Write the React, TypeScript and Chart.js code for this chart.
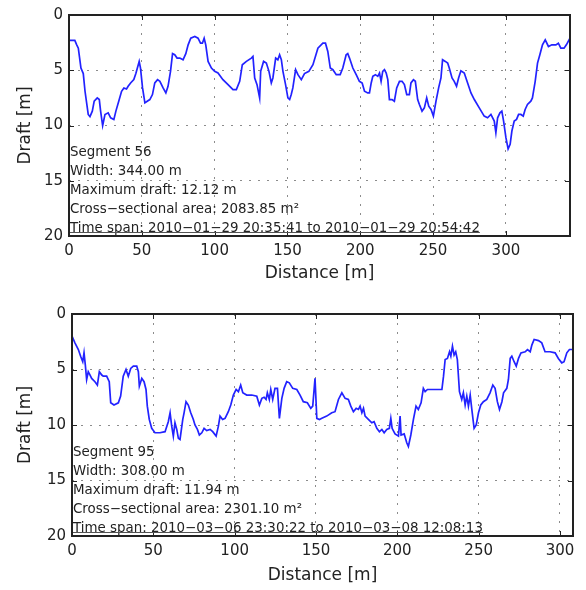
import React, { useEffect, useRef } from "react";
import { Chart, registerables } from "chart.js";

Chart.register(...registerables);

// Segment 56 ice draft profile
const seg56Distance = [
  0, 4, 5.3, 6.4, 8.2, 9.8, 11, 13.2, 14.4, 16, 17.3, 19.4, 20.8, 21.7, 23.1, 24.7, 26.9, 28.6, 30.8, 32.2,
  34.5, 36.1, 37.7, 39.5, 40.6, 42.3, 44.5, 45.9, 48.2, 49.1, 50.5, 52.1, 53.7, 55.5, 57.3, 58.9, 60.8, 62.4,
  64.6, 66.5, 68, 69.7, 71.1, 72.6, 74.2, 76.1, 78.3, 80.2, 81.8, 83.6, 86.4, 88.6, 90.3, 91.6, 92.8, 93.9,
  95.5, 97.8, 100, 102.3, 105.7, 109.2, 112.6, 114.9, 117.2, 119, 121.8, 125.2, 126.3, 127.5, 129.1, 130.9,
  131.6, 133.6, 135.5, 137.3, 138.9, 140, 141.9, 143.4, 144.6, 145.8, 146.9, 148.7, 150.3, 151.5, 152.6,
  153.7, 155.6, 157.2, 159.5, 161.7, 164.7, 167.5, 170.9, 174.3, 176.1, 177.7, 179.4, 181.2, 183.5, 186.2,
  188, 190.3, 191.4, 192.6, 194.9, 197.2, 199.4, 201.3, 202.9, 205.1, 206.3, 207.5, 208.6, 210.4, 212,
  213.2, 214.3, 215.4, 216.6, 217.8, 218.9, 220, 221.8, 223.4, 225, 226.9, 228.7, 230.3, 231.9, 233.7,
  234.8, 236.5, 237.8, 239.4, 240.6, 242.4, 244, 245.6, 247, 248.6, 250.2, 252, 253.8, 255.4, 256.5, 258.4,
  260, 261.1, 263, 264.5, 266.1, 267.5, 269.1, 271.4, 273.7, 276, 278.3, 281.7, 285.1, 287.4, 289.7, 292,
  293.1, 294.3, 295.9, 297.2, 298.4, 300, 301.5, 302.9, 304.1, 305.7, 307.3, 308.7, 310.3, 311.9, 313.2,
  314.8, 317.1, 318.2, 320.1, 321.7, 323.3, 325.1, 327, 329.2, 331.5, 334.3, 336, 337.7, 339.9, 341.5, 344,
];
const seg56Draft = [
  2.3, 2.3, 2.7, 3.0, 4.8, 5.3, 6.9, 9.0, 9.2, 8.7, 7.8, 7.5, 7.65, 8.7, 10.0, 9.0, 8.85, 9.3, 9.45, 8.7,
  7.65, 6.9, 6.6, 6.7, 6.45, 6.15, 5.85, 5.3, 4.2, 4.8, 6.6, 7.95, 7.8, 7.65, 7.2, 6.15, 5.85, 6.0,
  6.6, 7.05, 6.45, 5.1, 3.5, 3.6, 3.9, 3.9, 4.05, 3.5, 2.7, 2.1, 1.95, 2.1, 2.55, 2.55, 2.1, 2.7,
  4.2, 4.8, 5.1, 5.25, 5.85, 6.3, 6.75, 6.75, 6.0, 4.5, 4.2, 3.9, 3.75, 5.7, 6.3, 7.5,
  5.1, 4.2, 4.35, 5.1, 6.15, 5.7, 3.9, 4.05, 3.6, 4.05, 5.1, 6.3, 7.5, 7.65, 7.2,
  6.6, 4.95, 5.4, 5.85, 5.3, 5.1, 4.5, 3.0, 2.55, 2.55, 3.3, 4.8, 4.95, 5.4, 5.4,
  4.8, 3.6, 3.5, 3.9, 4.8, 5.4, 6.0, 6.15, 6.9, 7.05, 7.05, 6.15, 5.55, 5.4, 5.55,
  5.25, 6.0, 5.1, 4.95, 5.25, 5.85, 7.65, 7.65, 7.8, 6.6, 6.0, 6.0, 6.3, 7.2, 7.2,
  6.15, 5.85, 6.0, 7.65, 8.1, 8.7, 8.4, 7.5, 8.25, 8.55, 9.15, 7.8, 6.6, 5.7, 4.05, 4.2,
  4.35, 4.8, 5.7, 6.0, 6.45, 5.7, 5.05, 5.25, 6.15, 7.05, 7.65, 8.4, 9.15, 9.3, 9.0, 9.6,
  10.65, 9.3, 8.85, 8.7, 9.6, 11.1, 12.12, 11.7, 10.5, 9.6, 9.45, 9.0, 9.0, 9.15, 8.55,
  8.1, 7.8, 7.5, 6.0, 4.35, 3.6, 2.7, 2.25, 2.85, 2.7, 2.7, 2.55, 3.0, 3.0, 2.7, 2.1,
];
const seg56Info = [
  "Segment 56",
  "Width: 344.00 m",
  "Maximum draft: 12.12 m",
  "Cross\u2212sectional area: 2083.85 m\u00b2",
  "Time span: 2010\u221201\u221229 20:35:41 to 2010\u221201\u221229 20:54:42",
];

// Segment 95 ice draft profile
const seg95Distance = [
  0, 1.8, 3.9, 5.3, 6.6, 7.4, 8.2, 9, 10, 11.1, 12.1, 14.1, 15.6, 16.8, 18.3, 19.2, 21.3, 22.9, 23.8, 25.8,
  28.5, 29.9, 31.5, 33.2, 34.6, 36.1, 37.7, 39.8, 40.8, 41.4, 42.9, 44.3, 45.5, 46.3, 47.5, 49, 51, 54.1,
  57.2, 59.2, 60.3, 61.3, 62.3, 63.3, 64.4, 65.4, 66.4, 68.1, 68.9, 70.1, 71.5, 73, 74.6, 75.6, 77.1, 78.3,
  79.8, 81.2, 82.8, 84.9, 86.5, 88.6, 90, 91, 92.6, 94.1, 96.1, 97.6, 99.2, 100.9, 102.3, 103.7, 105, 107.4,
  110.5, 113.6, 115.2, 116.7, 118.1, 119.3, 120.1, 121.3, 122.2, 123.4, 124.8, 126.3, 127.5, 129, 130.4, 132,
  133.6, 135.7, 138.2, 140.2, 142.2, 144.7, 146.8, 148, 149.4, 150.5, 152.1, 153.6, 156.6, 159.7, 161.7,
  163.8, 165.9, 167.9, 169.9, 171.4, 173, 174.7, 176.1, 177.1, 178.2, 179.2, 180.2, 182.2, 184.3, 185.7,
  187.4, 189, 190.5, 191.9, 193.5, 195.1, 196, 196.8, 198.6, 200.7, 201.7, 202.3, 204.2, 205.8, 206.8,
  208.3, 209.9, 211.5, 212.9, 214.6, 216, 217.1, 218.5, 221.2, 224.3, 227.4, 228.4, 229.4, 230.8, 232.1,
  232.9, 233.9, 234.9, 235.9, 236.9, 238.2, 239.6, 240.6, 241.7, 242.7, 243.7, 244.8, 245.8, 247.2, 248.5,
  249.9, 251.3, 252.9, 255, 257, 258.7, 260.1, 261.5, 262.8, 264.3, 265.3, 267.3, 268.3, 269.4, 270.4,
  271.8, 273.1, 274.5, 276, 278.6, 280, 281.7, 282.7, 284.1, 286.8, 288.8, 290.8, 293.9, 297, 299, 301.1,
  302.5, 304.2, 305.8, 308,
];
const seg95Draft = [
  2.0, 2.6, 3.2, 3.8, 4.3, 3.5, 4.6, 5.9, 5.2, 5.5, 5.8, 6.1, 6.4, 5.2, 5.5, 5.6, 5.6, 6.1, 8.0, 8.2,
  8.0, 7.4, 5.6, 5.0, 5.6, 4.9, 4.7, 4.7, 5.2, 6.5, 5.8, 6.1, 6.8, 8.3, 9.5, 10.3, 10.7, 10.7,
  10.6, 9.7, 8.9, 10.1, 11.0, 9.8, 10.4, 11.2, 11.3, 9.5, 8.9, 7.9, 8.2, 8.9, 9.5, 10.0, 10.4, 10.9,
  10.7, 10.3, 10.5, 10.4, 10.6, 11.0, 10.1, 9.2, 9.5, 9.4, 8.8, 8.2, 7.3, 6.8, 7.0, 6.4, 7.1, 7.3,
  7.3, 7.4, 8.2, 7.6, 7.5, 7.7, 7.1, 7.7, 6.8, 7.7, 6.7, 6.7, 9.4, 7.6, 6.7, 6.1,
  6.2, 6.7, 6.8, 7.3, 7.9, 8.0, 8.5, 8.3, 5.8, 9.4, 9.5, 9.4, 9.2, 8.9, 8.8,
  7.7, 7.1, 7.6, 7.7, 8.3, 8.8, 8.5, 8.6, 8.3, 8.9, 8.5, 9.2, 9.5, 9.8, 9.7,
  10.3, 10.6, 10.4, 10.7, 10.4, 10.3, 9.4, 10.3, 10.8, 11.0, 9.2, 10.9, 10.8, 11.6, 11.94,
  10.9, 9.5, 8.3, 8.6, 8.0, 6.7, 7.0, 6.8, 6.8, 6.8, 6.8, 5.6, 4.1, 4.0, 3.4,
  3.8, 2.9, 3.7, 3.4, 4.1, 7.0, 7.7, 7.1, 8.2, 7.4, 8.3, 7.3, 8.6, 10.3, 10.0,
  8.9, 8.2, 7.9, 7.7, 7.1, 6.4, 6.7, 7.9, 8.6, 7.9, 7.1, 6.7, 5.9, 4.0, 3.8,
  4.3, 4.7, 4.0, 3.5, 3.4, 3.2, 3.4, 2.8, 2.3, 2.4, 2.6, 3.4, 3.4, 3.5, 4.0, 4.4,
  4.3, 3.5, 3.2, 3.2,
];
const seg95Info = [
  "Segment 95",
  "Width: 308.00 m",
  "Maximum draft: 11.94 m",
  "Cross\u2212sectional area: 2301.10 m\u00b2",
  "Time span: 2010\u221203\u221206 23:30:22 to 2010\u221203\u221208 12:08:13",
];

const DRAFT_MIN = 0;
const DRAFT_MAX = 20;
const DRAFT_STEP = 5;
const DISTANCE_STEP = 50;

const FONT = "'DejaVu Sans', 'Liberation Sans', Arial, sans-serif";
const INK = "#222222";
const GRID = "#8c8c8c";
const LINE_BLUE = "#2222ff";

type Frame = {
  top: number;
  right: number;
  yWidth: number;
  xHeight: number;
  xTitlePad: number;
};

// Axis box, inward tick marks and the text block in the lower-left corner
function makeFramePlugin(info: string[]) {
  return {
    id: "frameAndInfo",
    afterDraw(chart: any) {
      const { ctx, chartArea } = chart;
      const { left, right, top, bottom } = chartArea;
      const xs = chart.scales.x;
      const ys = chart.scales.y;
      ctx.save();
      ctx.strokeStyle = INK;
      ctx.lineWidth = 1;
      const tl = 5;
      ctx.beginPath();
      xs.ticks.forEach((t: any) => {
        const px = Math.round(xs.getPixelForValue(t.value)) + 0.5;
        ctx.moveTo(px, bottom);
        ctx.lineTo(px, bottom - tl);
        ctx.moveTo(px, top);
        ctx.lineTo(px, top + tl);
      });
      ys.ticks.forEach((t: any) => {
        const py = Math.round(ys.getPixelForValue(t.value)) + 0.5;
        ctx.moveTo(left, py);
        ctx.lineTo(left + tl, py);
        ctx.moveTo(right, py);
        ctx.lineTo(right - tl, py);
      });
      ctx.stroke();

      ctx.fillStyle = INK;
      ctx.font = `13.4px ${FONT}`;
      ctx.textAlign = "left";
      ctx.textBaseline = "middle";
      const n = info.length;
      let lastWidth = 0;
      info.forEach((line, i) => {
        const y = bottom - 7.5 - (n - 1 - i) * 19;
        ctx.fillText(line, left + 1, y);
        if (i === n - 1) lastWidth = ctx.measureText(line).width;
      });
      ctx.beginPath();
      ctx.moveTo(left, bottom - 3.5);
      ctx.lineTo(left + 1 + lastWidth, bottom - 3.5);
      ctx.strokeStyle = "#555555";
      ctx.stroke();

      ctx.strokeStyle = INK;
      ctx.lineWidth = 2;
      ctx.strokeRect(left, top, right - left, bottom - top);
      ctx.restore();
    },
  };
}

function ProfileChart(props: {
  distance: number[];
  draft: number[];
  width: number;
  info: string[];
  frame: Frame;
  canvasHeight: number;
}) {
  const ref = useRef<HTMLCanvasElement | null>(null);
  const { distance, draft, width, info, frame, canvasHeight } = props;

  useEffect(() => {
    if (!ref.current) return;
    const tickFont = { family: FONT, size: 15 };
    const titleFont = { family: FONT, size: 17 };
    const chart = new Chart(ref.current, {
      type: "line",
      data: {
        datasets: [
          {
            data: distance.map((x, i) => ({ x, y: draft[i] })),
            borderColor: LINE_BLUE,
            borderWidth: 1.7,
            pointRadius: 0,
            tension: 0,
            fill: false,
          },
        ],
      },
      options: {
        animation: false,
        responsive: false,
        devicePixelRatio: 1,
        layout: { padding: { top: frame.top, right: frame.right, left: 0, bottom: 0 } },
        plugins: { legend: { display: false }, tooltip: { enabled: false } },
        scales: {
          x: {
            type: "linear",
            min: 0,
            max: width,
            afterFit: (s: any) => {
              s.height = frame.xHeight;
            },
            ticks: {
              stepSize: DISTANCE_STEP,
              includeBounds: false,
              padding: 6,
              maxRotation: 0,
              autoSkip: false,
              color: INK,
              font: tickFont,
            },
            grid: { color: GRID, drawTicks: false, lineWidth: 1 },
            border: { display: false, dash: [2, 7] },
            title: {
              display: true,
              text: "Distance [m]",
              color: INK,
              font: titleFont,
              padding: { top: 0, bottom: frame.xTitlePad },
            },
          },
          y: {
            type: "linear",
            min: DRAFT_MIN,
            max: DRAFT_MAX,
            reverse: true,
            afterFit: (s: any) => {
              s.width = frame.yWidth;
            },
            ticks: { stepSize: DRAFT_STEP, padding: 6, color: INK, font: tickFont },
            grid: { color: GRID, drawTicks: false, lineWidth: 1 },
            border: { display: false, dash: [2, 7] },
            title: {
              display: true,
              text: "Draft [m]",
              color: INK,
              font: titleFont,
              padding: { top: 15, bottom: 0 },
            },
          },
        },
      } as any,
      plugins: [makeFramePlugin(info)],
    });
    return () => chart.destroy();
  }, [distance, draft, width, info, frame]);

  return <canvas ref={ref} width={586} height={canvasHeight} style={{ display: "block" }} />;
}

const topFrame: Frame = { top: 13, right: 16, yWidth: 69, xHeight: 59, xTitlePad: 11 };
const bottomFrame: Frame = { top: 19, right: 13, yWidth: 72, xHeight: 54, xTitlePad: 4 };

export default function App() {
  return (
    <div
      style={{
        position: "absolute",
        left: 0,
        top: 0,
        width: 586,
        height: 590,
        background: "#ffffff",
      }}
    >
      <ProfileChart
        distance={seg56Distance}
        draft={seg56Draft}
        width={344}
        info={seg56Info}
        frame={topFrame}
        canvasHeight={295}
      />
      <ProfileChart
        distance={seg95Distance}
        draft={seg95Draft}
        width={308}
        info={seg95Info}
        frame={bottomFrame}
        canvasHeight={295}
      />
    </div>
  );
}
